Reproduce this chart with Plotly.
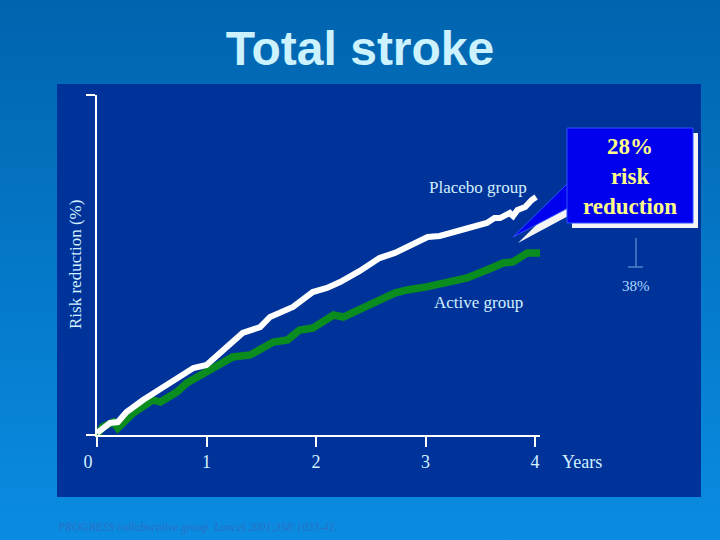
import base64
import plotly.graph_objects as go

# cumulative stroke incidence (%)
years_placebo = [0.00, 0.12, 0.19, 0.27, 0.42, 0.64, 0.88, 1.00, 1.15, 1.33, 1.49, 1.58,
                 1.79, 1.97, 2.10, 2.22, 2.40, 2.58, 2.72, 2.86, 3.02, 3.13, 3.38, 3.56,
                 3.63, 3.68, 3.77, 3.80, 3.84, 3.91, 3.97, 4.01]
risk_placebo = [0.12, 0.71, 0.76, 1.35, 2.06, 2.94, 3.94, 4.12, 5.00, 6.00, 6.35, 6.94,
                7.53, 8.41, 8.65, 9.00, 9.65, 10.41, 10.71, 11.18, 11.65, 11.71, 12.18, 12.47,
                12.76, 12.76, 13.06, 12.88, 13.24, 13.41, 13.82, 14.00]

years_active = [0.00, 0.05, 0.15, 0.19, 0.33, 0.51, 0.58, 0.73, 0.82, 1.03, 1.24, 1.40,
                1.61, 1.74, 1.85, 1.97, 2.10, 2.16, 2.25, 2.40, 2.58, 2.72, 2.83, 3.01,
                3.20, 3.38, 3.56, 3.71, 3.80, 3.88, 3.93, 4.05]
risk_active = [0.00, 0.47, 0.76, 0.41, 1.29, 2.06, 1.94, 2.53, 3.06, 3.82, 4.59, 4.71,
               5.47, 5.59, 6.18, 6.29, 6.76, 7.06, 6.94, 7.35, 7.94, 8.35, 8.53, 8.71,
               8.94, 9.24, 9.71, 10.12, 10.18, 10.47, 10.71, 10.71]

year_ticks = [0, 1, 2, 3, 4]
year_labels = ["0\u2007\u2007", "1", "2", "3", "4"]

# plot area in pixels
L, T, W, H = 97, 95, 443, 340


def pp(x, y):
    # pixel -> paper coords
    return (x - L) / W, (T + H - y) / H


def path(points):
    s = ""
    for i, (x, y) in enumerate(points):
        a, b = pp(x, y)
        s += ("M" if i == 0 else "L") + f"{a:.4f},{b:.4f} "
    return s + "Z"


def box(x0, y0, x1, y1, color, line=None):
    a0, b0 = pp(x0, y1)
    a1, b1 = pp(x1, y0)
    return dict(type="rect", xref="paper", yref="paper", x0=a0, y0=b0, x1=a1, y1=b1,
                fillcolor=color, line=line or dict(width=0))


def note(px, py, text, size, color, bold=False, italic=False, anchor="center", angle=0):
    a, b = pp(px, py)
    if bold:
        text = f"<b>{text}</b>"
    if italic:
        text = f"<i>{text}</i>"
    return dict(x=a, y=b, xref="paper", yref="paper", text=text, showarrow=False,
                xanchor=anchor, yanchor="middle", textangle=angle,
                font=dict(family="Liberation Serif", size=size, color=color))


svg = ('<svg xmlns="http://www.w3.org/2000/svg" width="720" height="540">'
       '<defs><linearGradient id="g" x1="0" y1="0" x2="0" y2="1">'
       '<stop offset="0" stop-color="#0064ae"/><stop offset="1" stop-color="#0a8ce2"/>'
       '</linearGradient></defs><rect width="720" height="540" fill="url(#g)"/></svg>')
bg_src = "data:image/svg+xml;base64," + base64.b64encode(svg.encode()).decode()

fig = go.Figure()

fig.add_trace(go.Scatter(x=years_active, y=risk_active, mode="lines",
                         line=dict(color="#0a8c1e", width=7.5), name="Active group"))
fig.add_trace(go.Scatter(x=years_placebo, y=risk_placebo, mode="lines",
                         line=dict(color="white", width=6), name="Placebo group"))

light = "#d2f0ff"
panel = box(57, 84, 701, 497, "#003399")
panel["layer"] = "below"

shapes = [
    panel,
    # callout shadow + pointer
    dict(type="path", path=path([(572, 190), (518, 243), (572, 214)]), xref="paper", yref="paper",
         fillcolor="#f4f4f4", line_width=0),
    box(572, 133, 698, 228, "#f4f4f4"),
    dict(type="path", path=path([(568, 183), (513, 237), (568, 208)]), xref="paper", yref="paper",
         fillcolor="#0000ee", line=dict(color="#3050ff", width=1)),
    box(567, 128, 693, 223, "#0000ee", dict(color="#3050ff", width=1)),
    # 38% bracket
    dict(type="line", xref="paper", yref="paper",
         x0=pp(636, 0)[0], x1=pp(636, 0)[0], y0=pp(0, 238)[1], y1=pp(0, 267)[1],
         line=dict(color="#4f82cc", width=1.5)),
    dict(type="line", xref="paper", yref="paper",
         x0=pp(628, 0)[0], x1=pp(643, 0)[0], y0=pp(0, 267)[1], y1=pp(0, 267)[1],
         line=dict(color="#4f82cc", width=1.5)),
]

annotations = [
    dict(x=3.48, y=14.55, xref="x", yref="y", text="Placebo group", showarrow=False,
         xanchor="center", yanchor="middle",
         font=dict(family="Liberation Serif", size=17, color=light)),
    dict(x=3.48, y=7.8, xref="x", yref="y", text="Active group", showarrow=False,
         xanchor="center", yanchor="middle",
         font=dict(family="Liberation Serif", size=17, color=light)),
    note(75, 265, "Risk reduction (%)", 17, light, angle=-90),
    note(560, 462, "Years", 18, light, anchor="left"),
    note(630, 176, "28%<br>risk<br>reduction", 23, "#ffff88", bold=True),
    note(636, 286, "38%", 15, "#a8d8ff"),
    note(55, 527, "PROGRESS collaborative group. Lancet 2001;358:1033-41.", 11.5, "#2a70c4",
         italic=True, anchor="left"),
]

fig.update_layout(
    width=720, height=540,
    margin=dict(l=L, r=720 - L - W, t=T, b=540 - T - H),
    paper_bgcolor="#0677c8", plot_bgcolor="rgba(0,0,0,0)",
    showlegend=False,
    title=dict(text="<b>Total stroke</b>", x=0.5, xanchor="center", y=1 - 48 / 540,
               yanchor="middle", yref="container",
               font=dict(family="Liberation Sans", size=48, color="#ccf2ff")),
    images=[dict(source=bg_src, xref="paper", yref="paper", x=pp(0, 0)[0], y=pp(0, 0)[1],
                 sizex=720 / W, sizey=540 / H, xanchor="left", yanchor="top",
                 sizing="stretch", layer="below")],
    shapes=shapes,
    annotations=annotations,
)

fig.update_xaxes(range=[0, (L + W - 97) / 109.5], tickvals=year_ticks, ticktext=year_labels,
                 showline=True, linecolor="white", linewidth=1.5, ticks="outside", ticklen=10,
                 tickwidth=2, tickcolor="white", showgrid=False, zeroline=False,
                 tickfont=dict(family="Liberation Serif", size=18, color=light))
fig.update_yaxes(range=[0, 20], tickvals=[0, 20], showticklabels=False,
                 showline=True, linecolor="white", linewidth=1.5, ticks="outside", ticklen=9,
                 tickwidth=1.5, tickcolor="white", showgrid=False, zeroline=False)

fig.write_html("out.html", config={"displayModeBar": False},
               post_script="document.body.style.margin='0';")
